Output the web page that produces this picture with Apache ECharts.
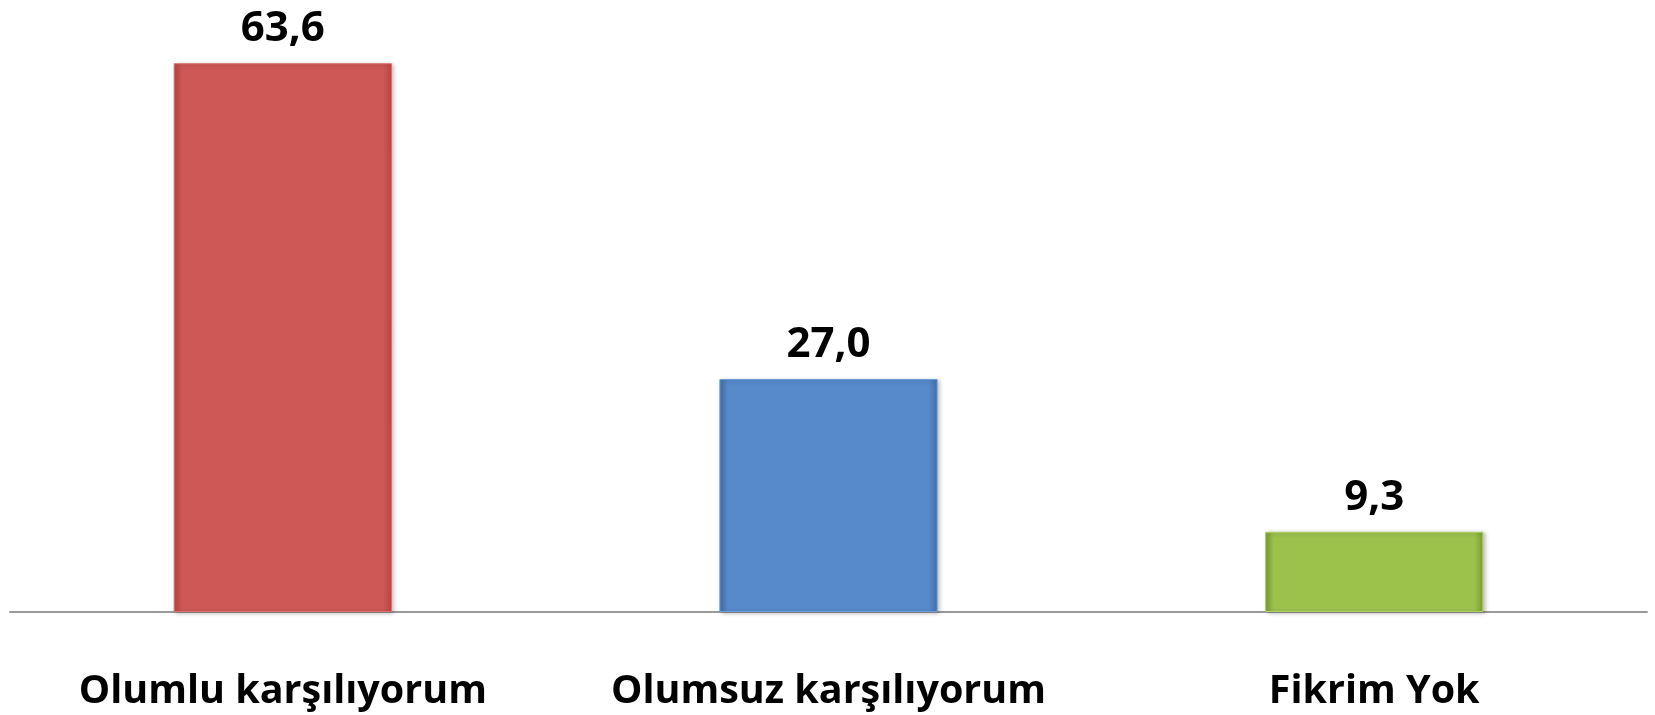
<!DOCTYPE html>
<html><head><meta charset="utf-8">
<script src="https://cdn.jsdelivr.net/npm/echarts@6/dist/echarts.min.js"></script>
<style>html,body{margin:0;padding:0;background:#fff}#c{width:1655px;height:715px}</style>
</head><body><div id="c"></div>
<script>
const categories = ["Olumlu karşılıyorum", "Olumsuz karşılıyorum", "Fikrim Yok"];
const values = [63.6, 27.0, 9.3];
const colors = [
  ["#E0706D", "#CD5855", "#B84644"],
  ["#6E9EDA", "#568ACB", "#416FAA"],
  ["#B1D265", "#9CC24C", "#7A9C34"]
];
const chart = echarts.init(document.getElementById('c'));
chart.setOption({
  animation: false,
  grid: {left: 10, right: 8, top: 8, bottom: 103},
  xAxis: {
    type: 'category', data: categories,
    axisTick: {show: false},
    axisLine: {lineStyle: {color: '#9a9a9a', width: 2}},
    axisLabel: {interval: 0, hideOverlap: false, margin: 60, fontFamily: 'Open Sans', fontWeight: 'bold', fontSize: 39.5, color: '#000'}
  },
  yAxis: {type: 'value', min: 0, max: 70, show: false, splitLine: {show: false}},
  series: [{
    type: 'bar', barWidth: '40%',
    data: values.map((v, i) => ({
      value: v,
      itemStyle: {
        color: new echarts.graphic.LinearGradient(0, 0, 1, 0, [
          {offset: 0, color: colors[i][2]},
          {offset: 0.04, color: colors[i][1]},
          {offset: 0.96, color: colors[i][1]},
          {offset: 1, color: colors[i][2]}
        ]),
        borderColor: colors[i][0], borderWidth: 1,
        shadowColor: 'rgba(0,0,0,0.25)', shadowBlur: 4, shadowOffsetX: 2, shadowOffsetY: 1
      }
    })),
    label: {
      show: true, position: 'top', distance: 13,
      formatter: p => p.value.toFixed(1).replace('.', ','),
      fontFamily: 'Open Sans', fontWeight: 'bold', fontSize: 42, color: '#000'
    }
  }]
});
</script></body></html>
